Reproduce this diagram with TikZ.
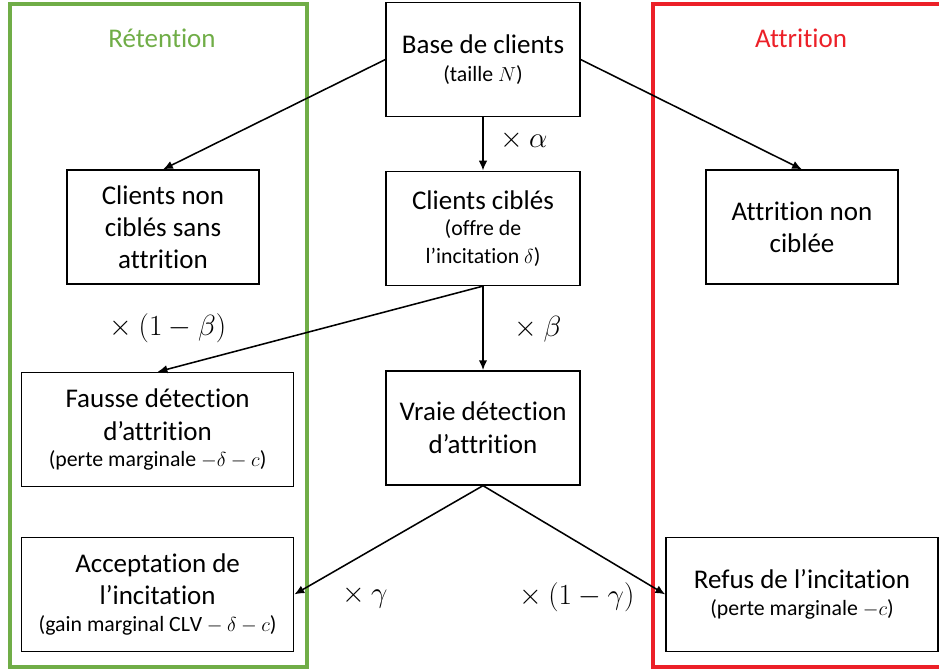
\documentclass[tikz,border=0pt]{standalone}
\usepackage{fontspec}
\setmainfont{Carlito}[Ligatures=NoCommon]
\usepackage{tikz}
\usetikzlibrary{arrows.meta,positioning}

\definecolor{vertret}{RGB}{112,173,71}
\definecolor{rougeatt}{RGB}{236,32,40}

\newcommand{\petit}{\fontsize{15.5pt}{19pt}\selectfont}

\begin{document}
\begin{tikzpicture}[
  box/.style={draw, line width=1.1pt, align=center, minimum width=4.85cm, minimum height=2.85cm, font=\fontsize{19.2pt}{23pt}\selectfont},
  large/.style={box, minimum width=6.8cm},
  fleche/.style={-{Latex[length=7pt,width=6pt]}, line width=1.1pt},
  facteur/.style={font=\fontsize{19.2pt}{23pt}\selectfont}
]

% cadre de la figure
\useasboundingbox (0,0) rectangle (23.475,16.75);

% zones retention / attrition
\draw[vertret, line width=2.2pt] (0.25,0.075) rectangle (7.675,16.65);
\draw[rougeatt, line width=2.2pt] (16.325,0.075) rectangle (24,16.65);
\node[facteur, text=vertret] (ret) at (4.05,15.8) {Rétention};
\node[facteur, text=rougeatt] (att) at (20.025,15.8) {Attrition};

% colonne du milieu
\node[box] (base) at (12.075,15.26) {Base de clients\\[-0.1cm]\petit(taille $N$)};
\node[box, below=1.33cm of base] (cible) {Clients ciblés\\[-0.15cm]\petit(offre de\\[-0.12cm]\petit l’incitation $\delta$)};
\node[box, below=2.1cm of cible] (vraie) {Vraie détection\\d’attrition};

% colonnes gauche et droite
\node[box, minimum width=4.8cm] (noncible) at (4.075,11.07) {Clients non\\ciblés sans\\attrition};
\node[box, minimum width=4.8cm] (attnc) at (20.05,11.07) {Attrition non\\ciblée};
\node[large] (fausse) at (3.94,6.01) {Fausse détection\\d’attrition\\[-0.15cm]\petit(perte marginale $-\delta-c$)};
\node[large] (accept) at (3.94,1.89) {Acceptation de\\l’incitation\\[-0.15cm]\petit(gain marginal $\mathrm{CLV}-\delta-c$)};
\node[large] (refus) at (20.05,1.89) {Refus de l’incitation\\[-0.15cm]\petit(perte marginale $-c$)};

% fleches
\draw[fleche] (base.west) -- (noncible.north);
\draw[fleche] (base.east) -- (attnc.north);
\draw[fleche] (base) -- (cible);
\draw[fleche] (cible.south) -- (fausse.north);
\draw[fleche] (cible) -- (vraie);
\draw[fleche] (vraie.south) -- (accept.east);
\draw[fleche] (vraie.south) -- (refus.west);

% facteurs
\node[facteur] (alpha) at (13.1,13.25) {$\times\ \alpha$};
\node[facteur] (unmoinsbeta) at (4.2,8.55) {$\times\ (1-\beta)$};
\node[facteur] (beta) at (13.45,8.525) {$\times\ \beta$};
\node[facteur] (gamma) at (9.125,1.825) {$\times\ \gamma$};
\node[facteur] (unmoinsgamma) at (14.425,1.825) {$\times\ (1-\gamma)$};

\end{tikzpicture}
\end{document}
